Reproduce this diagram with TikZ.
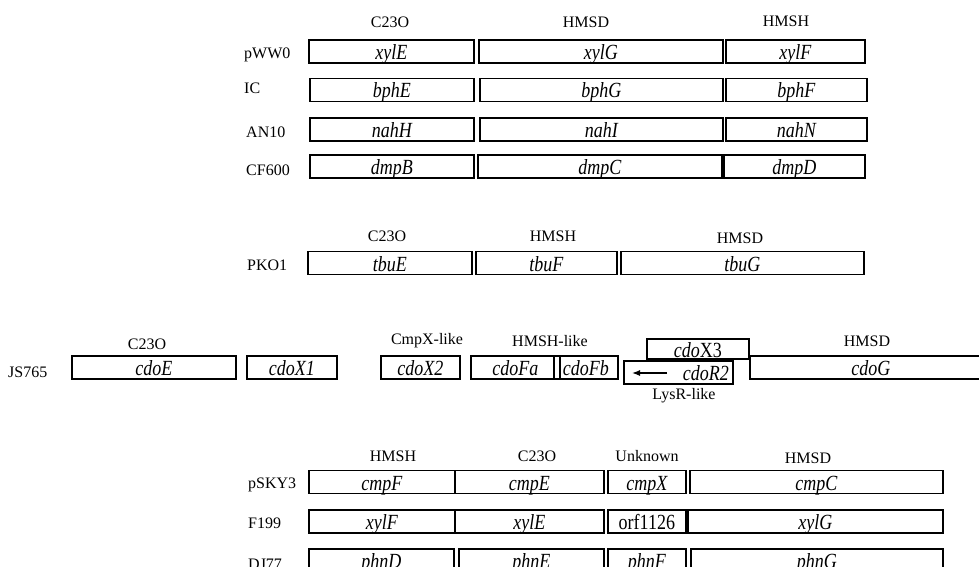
\documentclass[tikz,border=0pt]{standalone}
\usepackage{fontspec}
\setmainfont{Liberation Serif}
\usepackage{graphicx}
\usetikzlibrary{arrows.meta}
\newcommand{\gn}[1]{\scalebox{1}[1.2]{#1}}
\begin{document}
\begin{tikzpicture}[x=1pt,y=-1pt,>=Latex,
  gene/.style={draw,line width=1.8pt,fill=white,inner sep=0pt,minimum height=23pt,text height=18pt,text depth=2pt,anchor=west,font=\fontsize{18}{20}\selectfont\itshape},
  lbl/.style={anchor=base,inner sep=0pt,font=\fontsize{16}{18}\selectfont},
  strain/.style={lbl,anchor=base west}]
\path[use as bounding box,clip] (0,0) rectangle (979,567);
\node[lbl] (hdC1) at (390,28) {C23O};
\node[lbl] (hdD1) at (586,28) {HMSD};
\node[lbl] (hdH1) at (786,27) {HMSH};
\node[strain] (pWW0) at (244,59) {pWW0};
\node[gene,minimum width=165] (pwwE) at (308,51.5) {\gn{xylE}};
\node[gene,minimum width=244] (pwwG) at (478,51.5) {\gn{xylG}};
\node[gene,minimum width=139] (pwwF) at (725,51.5) {\gn{xylF}};
\node[strain] (IC) at (244,94) {IC};
\node[gene,minimum width=164] (icE) at (309,90) {\gn{bphE}};
\node[gene,minimum width=243] (icG) at (479,90) {\gn{bphG}};
\node[gene,minimum width=141] (icF) at (725,90) {\gn{bphF}};
\node[strain] (AN10) at (246,138) {AN10};
\node[gene,minimum width=164] (anH) at (309,129.5) {\gn{nahH}};
\node[gene,minimum width=243] (anI) at (479,129.5) {\gn{nahI}};
\node[gene,minimum width=141] (anN) at (725,129.5) {\gn{nahN}};
\node[strain] (CF600) at (246,175) {CF600};
\node[gene,minimum width=164] (cfB) at (309,166.5) {\gn{dmpB}};
\node[gene,minimum width=244] (cfC) at (477,166.5) {\gn{dmpC}};
\node[gene,minimum width=141] (cfD) at (723,166.5) {\gn{dmpD}};

\node[lbl] (hdC2) at (387,241) {C23O};
\node[lbl] (hdH2) at (553,241) {HMSH};
\node[lbl] (hdD2) at (740,243) {HMSD};
\node[strain] (PKO1) at (247,270) {PKO1};
\node[gene,minimum width=164] (pkoE) at (307,263) {\gn{tbuE}};
\node[gene,minimum width=141] (pkoF) at (475,263) {\gn{tbuF}};
\node[gene,minimum width=243] (pkoG) at (620,263) {\gn{tbuG}};

\node[lbl] (hdC3) at (147,349) {C23O};
\node[lbl] (hdX3) at (427,344) {CmpX-like};
\node[lbl] (hdH3) at (550,346) {HMSH-like};
\node[lbl] (hdD3) at (867,346) {HMSD};
\node[lbl] (hdR3) at (684,399) {LysR-like};
\node[strain] (JS765) at (8,377) {JS765};
\node[gene,minimum width=164] (jsE) at (71,367.5) {\gn{cdoE}};
\node[gene,minimum width=90] (jsX1) at (246,367.5) {\gn{cdoX1}};
\node[gene,minimum width=79] (jsX2) at (380,367.5) {\gn{cdoX2}};
\node[gene,minimum width=89] (jsFa) at (470,367.5) {\gn{cdoFa}};
\node[gene,minimum width=64,fill=none] (jsFb) at (553,367.5) {\gn{cdoFb}};
\node[gene,minimum width=242] (jsG) at (749,367.5) {\gn{cdoG}};
\node[gene,minimum width=102,minimum height=20pt] (jsX3) at (646,349) {\gn{cdo\upshape X3}};
\node[gene,inner xsep=4pt,text width=101pt,align=right] (jsR2) at (623,372.5) {\gn{cdoR2}};
\coordinate (r2tail) at (667,373);
\coordinate (r2head) at (632,373);
\draw[line width=1.3pt,-{Latex[length=8pt,width=6pt]}] (r2tail) -- (r2head);

\node[lbl] (hdH4) at (393,461) {HMSH};
\node[lbl] (hdC4) at (537,461) {C23O};
\node[lbl] (hdU4) at (647,461) {Unknown};
\node[lbl] (hdD4) at (808,463) {HMSD};
\node[strain] (pSKY3) at (248,488) {pSKY3};
\node[gene,minimum width=146] (skyF) at (308,482) {\gn{cmpF}};
\node[gene,minimum width=149,fill=none] (skyE) at (454,482) {\gn{cmpE}};
\node[gene,minimum width=78] (skyX) at (607,482) {\gn{cmpX}};
\node[gene,minimum width=253] (skyC) at (689,482) {\gn{cmpC}};
\node[strain] (F199) at (248,528) {F199};
\node[gene,minimum width=146] (fF) at (308,521.5) {\gn{xylF}};
\node[gene,minimum width=149,fill=none] (fE) at (454,521.5) {\gn{xylE}};
\node[gene,minimum width=78,font=\fontsize{18}{20}\selectfont\upshape] (fOrf) at (607,521.5) {\gn{orf1126}};
\node[gene,minimum width=255] (fG) at (687,521.5) {\gn{xylG}};
\node[strain] (DJ77) at (248,569) {DJ77};
\node[gene,minimum width=145] (djD) at (308,560.5) {\gn{phnD}};
\node[gene,minimum width=145] (djE) at (458,560.5) {\gn{phnE}};
\node[gene,minimum width=78] (djF) at (607,560.5) {\gn{phnF}};
\node[gene,minimum width=252] (djG) at (690,560.5) {\gn{phnG}};
\end{tikzpicture}
\end{document}
